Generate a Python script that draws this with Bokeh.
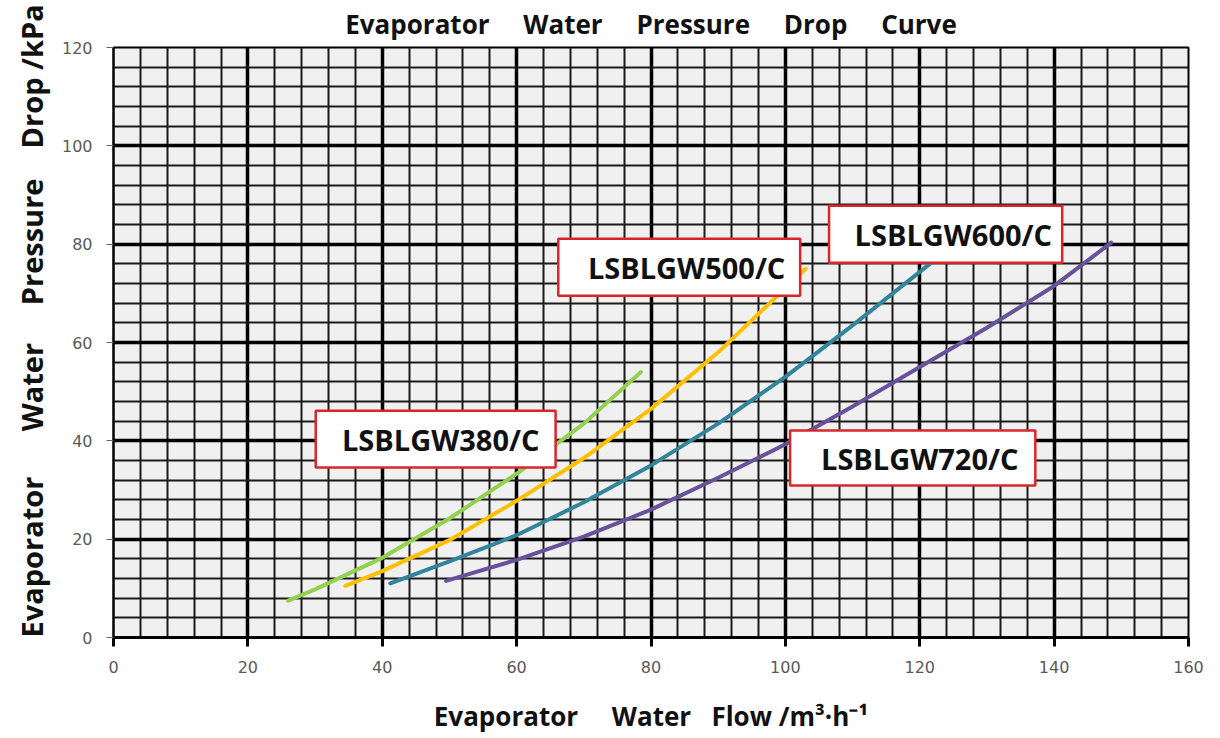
from bokeh.plotting import figure
from bokeh.models import SingleIntervalTicker, Range1d, ColumnDataSource, Title
from bokeh.core.properties import value
from bokeh.embed import file_html
from bokeh.resources import INLINE

NB = "\u00a0"

def gap(n):
    return NB * (n - 1) + " "

# ---- data ----
flow_380 = [26, 30, 40, 50, 60, 70, 78.5]
drop_380 = [7.5, 9.8, 16.2, 24.2, 33.3, 43.5, 54]

flow_500 = [34.5, 40, 50, 60, 70, 80, 90, 103]
drop_500 = [10.5, 13.5, 19.8, 27.8, 36.5, 46.5, 58, 75]

flow_600 = [41.2, 50, 60, 70, 80, 90, 100, 110, 121.5, 124]
drop_600 = [11, 15.5, 20.8, 27.5, 35, 43.5, 53, 63.5, 76, 79]

flow_720 = [49.5, 60, 70, 80, 90, 100, 110, 120, 130, 140, 148.5]
drop_720 = [11.5, 15.8, 20.5, 26, 32.5, 39.3, 47, 55, 63, 71.5, 80.3]

series_names = ["LSBLGW380/C", "LSBLGW500/C", "LSBLGW600/C", "LSBLGW720/C"]
series_colors = ["#92d050", "#ffc000", "#31849b", "#67519a"]

# label boxes (data coordinates)
box_left = [30.1, 66.2, 106.5, 100.7]
box_right = [65.8, 102.2, 141.2, 137.2]
box_bottom = [34.6, 69.5, 76.2, 30.9]
box_top = [46.1, 81.1, 87.8, 42.1]
label_x = [48.7, 85.3, 125.0, 120.0]
label_y = [40.3, 75.3, 82.0, 36.5]

x_ticks_interval = 20
y_ticks_interval = 20

title_text = f"Evaporator{gap(5)}Water{gap(5)}Pressure{gap(5)}Drop{gap(5)}Curve"
x_label_text = f"Evaporator{gap(5)}Water{gap(3)}Flow /m³·h⁻¹"
y_label_text = f"Evaporator{gap(6)}Water{gap(5)}Pressure{gap(4)}Drop /kPa"

FW, FH = 1075, 590

p = figure(
    frame_width=FW, frame_height=FH,
    x_range=Range1d(0, 160), y_range=Range1d(0, 120),
    output_backend="svg", toolbar_location=None,
    min_border_left=113, min_border_right=24, min_border_top=47, min_border_bottom=88,
    background_fill_color="#f0f0f0", border_fill_color="white",
    outline_line_color="black", outline_line_width=2,
)

# title
p.title.text = title_text
p.title.text_font = "Open Sans"
p.title.text_font_style = "bold"
p.title.text_font_size = "26px"
p.title.align = "center"
p.title.offset = 10
p.title.text_color = "#111111"
p.title.standoff = 8
p.title.vertical_align = "top"

# tickers / grids
for ax, grid, iv in ((p.xaxis[0], p.xgrid[0], x_ticks_interval), (p.yaxis[0], p.ygrid[0], y_ticks_interval)):
    t = SingleIntervalTicker(interval=iv, num_minor_ticks=5)
    ax.ticker = t
    grid.ticker = t
    grid.grid_line_color = "black"
    grid.grid_line_width = 3.5
    grid.grid_line_alpha = 1
    grid.minor_grid_line_color = "#1a1a1a"
    grid.minor_grid_line_width = 2
    ax.minor_tick_line_color = None
    ax.major_label_text_font = "DejaVu Sans"
    ax.major_label_text_font_size = "16px"
    ax.major_label_text_color = "#595959"
    ax.axis_label_text_font = "Open Sans"
    ax.axis_label_text_font_style = "bold"
    ax.axis_label_text_color = "#111111"

xa = p.xaxis[0]
xa.axis_line_width = 3
xa.axis_line_color = "black"
xa.major_tick_line_width = 3
xa.major_tick_line_color = "black"
xa.major_tick_out = 9
xa.major_tick_in = 0
xa.major_label_standoff = 14
xa.axis_label = x_label_text
xa.axis_label_text_font_size = "26px"
xa.axis_label_standoff = 22

ya = p.yaxis[0]
ya.axis_line_width = 2
ya.axis_line_color = "black"
ya.major_tick_line_width = 1
ya.major_tick_line_color = "#666666"
ya.major_tick_out = 7
ya.major_tick_in = 0
ya.major_label_standoff = 14

y_title = Title(text=y_label_text, align="left", text_font="Open Sans",
                text_font_style="bold", text_font_size="29px", text_color="#111111", standoff=16)
p.add_layout(y_title, "left")

# curves
for fx, dy, col in ((flow_380, drop_380, series_colors[0]),
                    (flow_500, drop_500, series_colors[1]),
                    (flow_600, drop_600, series_colors[2]),
                    (flow_720, drop_720, series_colors[3])):
    p.line(fx, dy, line_color=col, line_width=4, line_cap="round", line_join="round")

# label boxes
box_src = ColumnDataSource(dict(left=box_left, right=box_right, bottom=box_bottom, top=box_top,
                                lx=label_x, ly=label_y, name=series_names))
p.quad(left="left", right="right", bottom="bottom", top="top", source=box_src,
       fill_color="white", line_color="#d9262b", line_width=2.5)
p.text(x="lx", y="ly", text="name", source=box_src,
       text_font=value("Open Sans"), text_font_style="bold", text_font_size="29px",
       text_color="#111111", text_align="center", text_baseline="middle")

open("out.html", "w").write(file_html(p, INLINE))
